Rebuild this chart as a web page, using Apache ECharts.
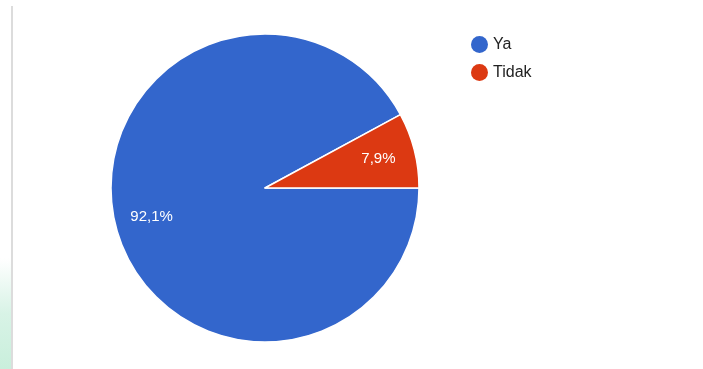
<!DOCTYPE html>
<html>
<head>
<meta charset="utf-8">
<script src="https://cdn.jsdelivr.net/npm/echarts@6/dist/echarts.min.js"></script>
<style>
html, body { margin: 0; padding: 0; background: #fff; }
.wrap { position: relative; width: 703px; height: 369px; }
.strip { position: absolute; left: 0; top: 0; width: 11px; height: 369px;
  background: linear-gradient(to bottom, #fff 0%, #fff 70%, #d8f3e6 85%, #c9efdc 100%); }
.rule { position: absolute; left: 11px; top: 6px; width: 2px; height: 363px; background: #dcdcdc; }
#chart { position: absolute; left: 0; top: 0; width: 703px; height: 369px; }
</style>
</head>
<body>
<div class="wrap">
  <div class="strip"></div>
  <div class="rule"></div>
  <div id="chart"></div>
</div>
<script>
// jawaban
var categories = ['Ya', 'Tidak'];
var values = [92.1, 7.9];
var colors = ['#3366cc', '#dc3912'];

var pieData = categories.map(function (c, i) {
  return { name: c, value: values[i] };
});

var myChart = echarts.init(document.getElementById('chart'));
var option = {
  color: colors,
  animation: false,
  legend: {
    orient: 'vertical',
    left: 466,
    top: 31,
    icon: 'circle',
    itemWidth: 17,
    itemHeight: 17,
    itemGap: 11,
    itemStyle: { borderWidth: 0 },
    textStyle: { fontFamily: 'Arial, "Liberation Sans", sans-serif', fontSize: 16, color: '#222' },
    data: categories
  },
  series: [
    {
      type: 'pie',
      center: [265, 188],
      radius: [0, 154],
      startAngle: 0,
      clockwise: true,
      silent: true,
      label: { show: false },
      labelLine: { show: false },
      itemStyle: { borderColor: '#fff', borderWidth: 1.5 },
      data: pieData
    },
    {
      // ring tembus pandang, cuma buat naruh label persen
      type: 'pie',
      center: [265, 188],
      radius: [74, 154],
      startAngle: 0,
      clockwise: true,
      silent: true,
      itemStyle: { color: 'transparent' },
      labelLine: { show: false },
      label: {
        show: true,
        position: 'inside',
        color: '#fff',
        fontFamily: 'Arial, "Liberation Sans", sans-serif',
        fontSize: 15,
        formatter: function (p) { return p.value.toFixed(1).replace('.', ',') + '%'; }
      },
      data: pieData
    }
  ]
};
myChart.setOption(option);
</script>
</body>
</html>
